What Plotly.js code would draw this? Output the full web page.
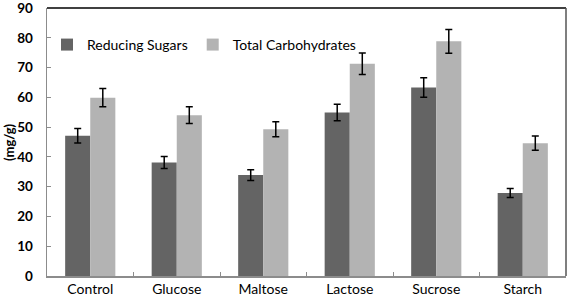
<!DOCTYPE html>
<html>
<head>
<meta charset="utf-8">
<script src="https://cdn.plot.ly/plotly-3.0.1.min.js"></script>
<style>html,body{margin:0;padding:0;background:#fff;}#chart{width:567px;height:300px;}</style>
</head>
<body>
<div id="chart"></div>
<script>
const categories = ["Control", "Glucose", "Maltose", "Lactose", "Sucrose", "Starch"];
const reducingSugars = [47.1, 38.1, 33.9, 54.9, 63.3, 27.9];
const reducingSugarsErr = [2.4, 2.0, 1.8, 2.8, 3.3, 1.5];
const totalCarbs = [59.9, 54.0, 49.3, 71.3, 78.8, 44.6];
const totalCarbsErr = [3.1, 2.8, 2.5, 3.6, 4.0, 2.4];
const yTicks = [0, 10, 20, 30, 40, 50, 60, 70, 80, 90];
const yTitle = "(mg/g)";

const FONT = "Lato, 'Liberation Sans', sans-serif";

const traces = [
  {
    type: "bar", name: "Reducing Sugars", x: categories, y: reducingSugars,
    marker: {color: "#646464"},
    error_y: {type: "data", array: reducingSugarsErr, visible: true, color: "#000", thickness: 1.5, width: 3.5}
  },
  {
    type: "bar", name: "Total Carbohydrates", x: categories, y: totalCarbs,
    marker: {color: "#b3b3b3"},
    error_y: {type: "data", array: totalCarbsErr, visible: true, color: "#000", thickness: 1.5, width: 3.5}
  }
];

const layout = {
  width: 567, height: 300,
  margin: {l: 47, r: 1, t: 8, b: 24, pad: 0},
  paper_bgcolor: "#fff", plot_bgcolor: "#fff",
  font: {family: FONT, size: 14, color: "#000"},
  barmode: "group", bargap: 0.42, bargroupgap: 0,
  showlegend: true,
  legend: {
    orientation: "h", x: 0.0, y: 0.862, xanchor: "left", yanchor: "middle",
    bgcolor: "rgba(0,0,0,0)", font: {family: FONT, size: 14, color: "#000"},
    itemwidth: 30, tracegroupgap: 0
  },
  xaxis: {
    type: "category", showgrid: false, zeroline: false,
    showline: true, linecolor: "#8c8c8c", linewidth: 1.5,
    ticks: "inside", tickson: "boundaries", ticklen: 4, tickcolor: "#8c8c8c",
    tickfont: {family: FONT, size: 14, color: "#000"}, fixedrange: true
  },
  yaxis: {
    range: [0, 90], tickvals: yTicks, ticktext: yTicks.map(String),
    showgrid: false, zeroline: false,
    showline: true, linecolor: "#8c8c8c", linewidth: 1.5,
    ticks: "inside", ticklen: 4, tickcolor: "#8c8c8c",
    ticklabeloverflow: "allow", ticklabelstandoff: 10,
    tickfont: {family: FONT, size: 13.5, color: "#000", weight: "bold"},
    fixedrange: true
  },
  annotations: [
    {text: "<b>" + yTitle + "</b>", xref: "paper", yref: "paper", x: -38 / 519, y: 0.5,
     xanchor: "center", yanchor: "middle", textangle: -90, showarrow: false,
     font: {family: FONT, size: 13, color: "#000"}}
  ],
  shapes: [
    {type: "line", xref: "paper", yref: "paper", x0: 0, x1: 1, y0: 1, y1: 1, line: {color: "#000", width: 1.5}},
    {type: "line", xref: "paper", yref: "paper", x0: 1, x1: 1, y0: 0, y1: 1, line: {color: "#555", width: 1.5}}
  ]
};

Plotly.newPlot("chart", traces, layout, {displayModeBar: false, staticPlot: true});
</script>
</body>
</html>
